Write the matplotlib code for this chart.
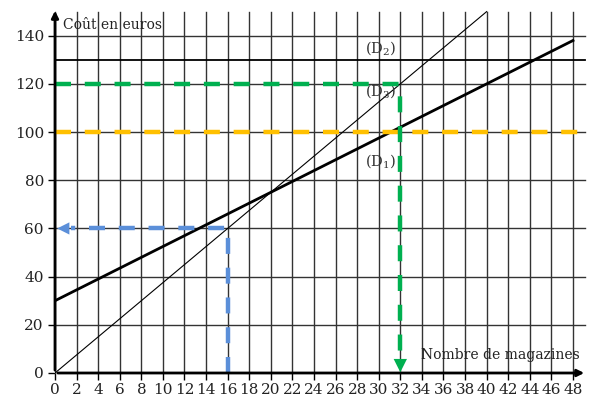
import numpy as np
import matplotlib.pyplot as plt

plt.rcParams['font.family'] = 'DejaVu Serif'
plt.rcParams['mathtext.fontset'] = 'dejavuserif'

x_ticks = list(range(0, 50, 2))
y_ticks = [0, 20, 40, 60, 80, 100, 120, 140]

# droites
d1_x = [0, 48]
d1_y = [30, 138]
d2_y = 130
d3_x = [0, 40]
d3_y = [0, 150]

# lectures graphiques
orange_y = 100
green_x, green_y = 32, 120
blue_x, blue_y = 16, 60

fig = plt.figure(figsize=(5.89, 3.98), dpi=100)
ax = fig.add_axes([55/589, 25/398, 532/589, 365/398])
ax.set_xlim(0, 49.3)
ax.set_ylim(0, 151.5)
for s in ax.spines.values():
    s.set_visible(False)

# grille
for xv in x_ticks:
    ax.plot([xv, xv], [0, 150], color='#333333', lw=1, zorder=1)
for yv in y_ticks[1:]:
    ax.plot([0, 49.1], [yv, yv], color='#333333', lw=1, zorder=1)

# axes avec fleches
ax.annotate('', xy=(49.3, 0), xytext=(0, 0),
            arrowprops=dict(arrowstyle='-|>', color='black', lw=2, mutation_scale=10), zorder=5)
ax.annotate('', xy=(0, 151.5), xytext=(0, 0),
            arrowprops=dict(arrowstyle='-|>', color='black', lw=2, mutation_scale=10), zorder=5)

ax.plot(d1_x, d1_y, color='black', lw=2, zorder=3)
ax.plot([0, 49.1], [d2_y, d2_y], color='black', lw=1.3, zorder=3)
ax.plot(d3_x, d3_y, color='black', lw=0.8, zorder=3)

dash = dict(lw=3.2, dashes=(3.6, 3.1), zorder=4)
ax.plot([0, 48.5], [orange_y, orange_y], color='#FFC000', **dash)
ax.plot([0, green_x, green_x], [green_y, green_y, 5], color='#00B050', **dash)
ax.plot([blue_x, blue_x, 1.5], [0, blue_y, blue_y], color='#5B8FD9', **dash)
ax.annotate('', xy=(green_x, 0.3), xytext=(green_x, 9),
            arrowprops=dict(arrowstyle='-|>', color='#00B050', lw=0, mutation_scale=24,
                            shrinkA=0, shrinkB=0), zorder=6)
ax.annotate('', xy=(0.2, blue_y), xytext=(3, blue_y),
            arrowprops=dict(arrowstyle='-|>', color='#5B8FD9', lw=0, mutation_scale=22,
                            shrinkA=0, shrinkB=0), zorder=6)

ax.set_xticks(x_ticks)
ax.set_yticks(y_ticks)
ax.tick_params(length=5, width=1, labelsize=11, color='black', labelcolor='#222222')
ax.tick_params(axis='x', pad=2)
ax.tick_params(axis='y', pad=3)

ax.text(0.7, 144.5, 'Coût en euros', fontsize=10, va='center', ha='left', color='#222222')
ax.text(48.6, 7.5, 'Nombre de magazines', fontsize=10, va='center', ha='right', color='#222222')
ax.text(28.7, 135, r'(D$_2$)', fontsize=10.5, va='center', color='#333333')
ax.text(28.7, 117, r'(D$_3$)', fontsize=10.5, va='center', color='#333333')
ax.text(28.7, 88, r'(D$_1$)', fontsize=10.5, va='center', color='#333333')

fig.savefig('out.png', dpi=100)
